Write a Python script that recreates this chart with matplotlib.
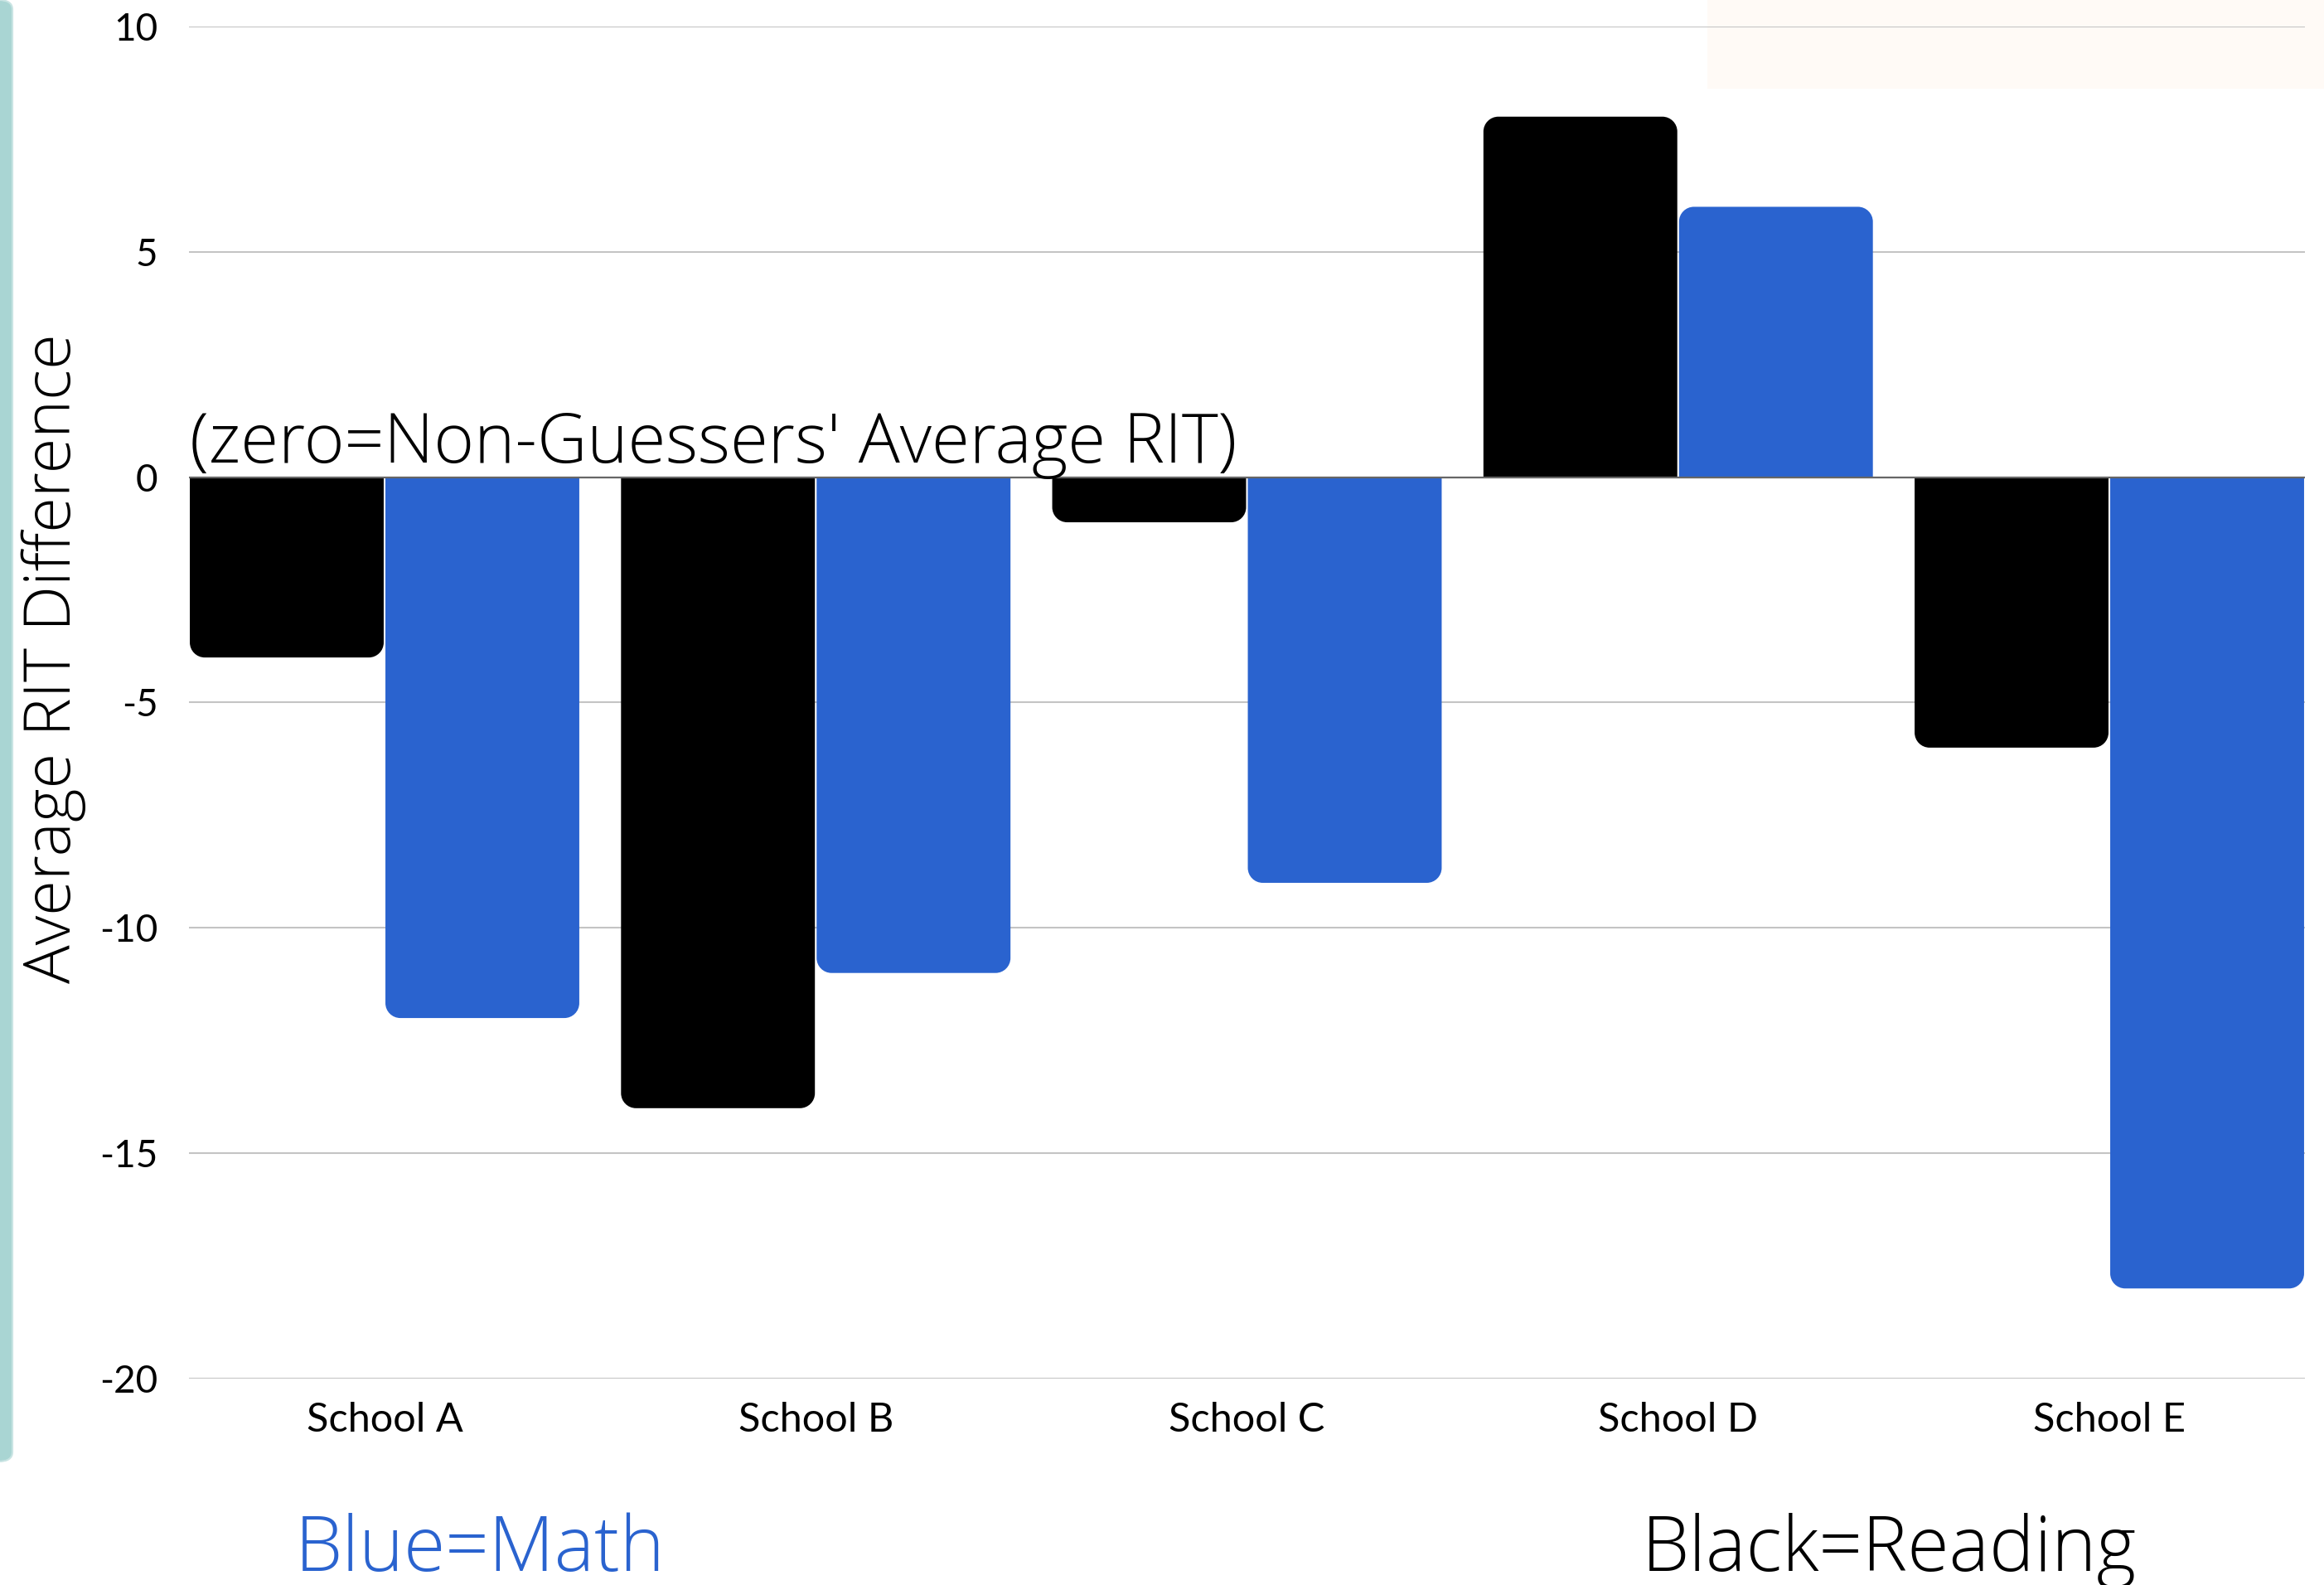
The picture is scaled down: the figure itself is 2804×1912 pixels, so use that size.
import matplotlib
matplotlib.use("Agg")
import matplotlib.pyplot as plt
import numpy as np
from matplotlib.path import Path
from matplotlib.patches import PathPatch, FancyBboxPatch, Rectangle

# -------------------------
# data
# -------------------------
schools = ["School A", "School B", "School C", "School D", "School E"]
reading = [-4, -14, -1, 8, -6]     # black bars
math = [-12, -11, -9, 6, -18]      # blue bars
yticks = [10, 5, 0, -5, -10, -15, -20]

BLUE = "#2a63cf"
W, H = 2804, 1912


def rounded_path(x0, w, h, rx, ry):
    """bar path from 0 to h, only the far end gets rounded corners"""
    s = np.sign(h) if h != 0 else 1
    k = 0.5523
    y1 = h - s * ry
    verts = [(x0, 0), (x0, y1),
             (x0, y1 + s * k * ry), (x0 + rx - k * rx, h), (x0 + rx, h),
             (x0 + w - rx, h),
             (x0 + w - rx + k * rx, h), (x0 + w, y1 + s * k * ry), (x0 + w, y1),
             (x0 + w, 0), (x0, 0)]
    codes = [Path.MOVETO, Path.LINETO,
             Path.CURVE4, Path.CURVE4, Path.CURVE4,
             Path.LINETO,
             Path.CURVE4, Path.CURVE4, Path.CURVE4,
             Path.LINETO, Path.CLOSEPOLY]
    return Path(verts, codes)


fig = plt.figure(figsize=(W / 100, H / 100), dpi=100, facecolor="white")

# light band on the left and pale box top-right
fig.patches.append(FancyBboxPatch((-0.01, 1 - 1763 / H), 0.01 + 15 / W, 1763 / H,
                                  boxstyle="round,pad=0,rounding_size=0.006",
                                  transform=fig.transFigure, facecolor="#a9d5d3",
                                  edgecolor="#c9e4e3", linewidth=1.5, zorder=-2))
fig.patches.append(Rectangle((2060 / W, 1 - 107 / H), 1 - 2060 / W, 107 / H,
                             transform=fig.transFigure, facecolor="#fffaf6",
                             edgecolor="none", zorder=-2))

ax = fig.add_axes([228 / W, 1 - 1663 / H, (2781 - 228) / W, (1663 - 32) / H])
ax.set_facecolor("none")

x = np.arange(len(schools))
bw = 0.4536
ax.set_xlim(-bw, len(schools) - 1 + bw)
ax.set_ylim(-20, 10)

# pixel radius -> data units
p0 = ax.transData.transform((0, 0))
p1 = ax.transData.transform((1, 1))
rad = 18
rx = rad / (p1[0] - p0[0])
ry = rad / (p1[1] - p0[1])

bars_r = ax.bar(x - bw / 2, reading, width=bw - 0.004, color="black")
bars_m = ax.bar(x + bw / 2, math, width=bw - 0.004, color=BLUE)
for bars, col in ((bars_r, "black"), (bars_m, BLUE)):
    for rect in bars:
        rect.set_visible(False)
        pp = PathPatch(rounded_path(rect.get_x(), rect.get_width(), rect.get_height(), rx, ry),
                       facecolor=col, edgecolor="none", zorder=3)
        ax.add_patch(pp)

ax.set_yticks(yticks)
ax.set_yticklabels([str(t) for t in yticks], fontsize=33, family="Lato")
ax.set_xticks(x)
ax.set_xticklabels(schools, fontsize=35, family="Lato")
ax.tick_params(axis="y", length=0, pad=27)
ax.tick_params(axis="x", length=0, pad=20)
for sp in ax.spines.values():
    sp.set_visible(False)
ax.grid(axis="y", color="#c4c4c4", linewidth=1.5, zorder=0)
ax.set_axisbelow(True)
ax.axhline(0, color="#666666", linewidth=1.6, zorder=4)

ax.text(-bw + 0.002, 0.33, "(zero=Non-Guessers' Average RIT)", fontsize=60,
        family="Open Sans", fontweight="light", va="baseline", ha="left", zorder=5)

fig.text(85 / W, 1 - 794 / H, "Average RIT Difference", rotation=90, fontsize=56,
         family="Open Sans", fontweight="light", ha="center", va="baseline",
         rotation_mode="anchor")

fig.text(356 / W, 1 - 1895 / H, "Blue=Math", fontsize=66, family="Open Sans",
         fontweight="light", color=BLUE, va="baseline", ha="left")
fig.text(1981 / W, 1 - 1895 / H, "Black=Reading", fontsize=66, family="Open Sans",
         fontweight="light", color="black", va="baseline", ha="left")

fig.savefig("out.png", dpi=100, facecolor="white")
